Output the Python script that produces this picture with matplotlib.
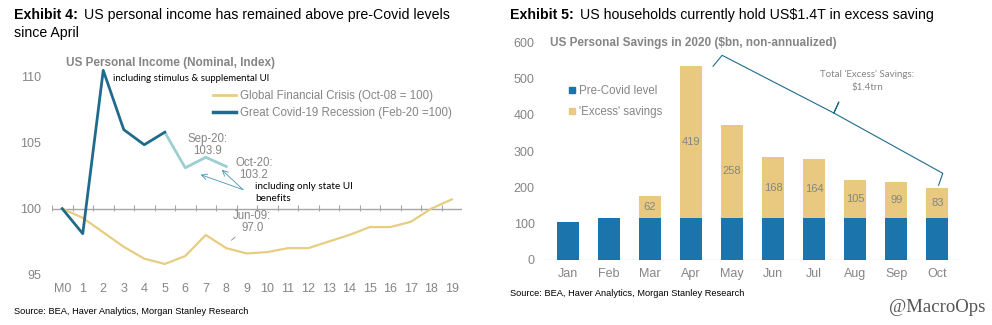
import numpy as np
import matplotlib
matplotlib.use("Agg")
from matplotlib import pyplot as plt
from matplotlib.lines import Line2D

plt.rcParams["font.family"] = ["Liberation Sans", "DejaVu Sans"]

# Personal income index, months since start of recession
months = list(range(20))
month_labels = ["M0"] + [str(m) for m in months[1:]]
gfc_index = [100.0, 99.3, 98.2, 97.1, 96.2, 95.8, 96.4, 98.0, 97.0, 96.6,
             96.7, 97.0, 97.0, 97.5, 98.0, 98.6, 98.6, 99.0, 100.0, 100.7]
covid_index = [100.0, 98.1, 110.5, 106.0, 104.85, 105.8, 103.1, 103.9, 103.2]

# Personal savings in 2020, $bn
save_months = ["Jan", "Feb", "Mar", "Apr", "May", "Jun", "Jul", "Aug", "Sep", "Oct"]
pre_covid = [105, 115, 115, 115, 115, 115, 115, 115, 115, 115]
excess = [0, 0, 62, 419, 258, 168, 164, 105, 99, 83]

GREY = "#858585"
DARK_BLUE = "#1F6B8C"
LIGHT_BLUE = "#9CCFCF"
BEIGE = "#E6CD82"
BAR_BLUE = "#1B75AC"
BAR_BEIGE = "#E8C97F"
ARROW_BLUE = "#4A90B8"

W, H = 992, 325
fig = plt.figure(figsize=(W / 100, H / 100), dpi=100)
fig.patch.set_facecolor("white")


def px(x, y):
    return x / W, 1 - y / H


def header(x, y, bold, rest, size=10.2):
    t = fig.text(*px(x, y), bold, fontsize=size, fontweight="bold", va="center")
    fig.canvas.draw()
    bb = t.get_window_extent()
    fig.text(bb.x1 / W + 6 / W, 1 - y / H, rest, fontsize=size, va="center")
    return t


# ---- Left: personal income index ----
ax1 = fig.add_axes([52 / W, (H - 274.5) / H, 410 / W, (274.5 - 44) / H])
ax1.set_xlim(-0.5, 19.5)
ax1.set_ylim(95, 112.5)
for s in ax1.spines.values():
    s.set_visible(False)
ax1.set_yticks([95, 100, 105, 110])
ax1.set_xticks(months)
ax1.set_xticklabels(month_labels)
ax1.tick_params(axis="both", length=0, colors=GREY, labelsize=9)
ax1.tick_params(axis="y", pad=8)
ax1.tick_params(axis="x", pad=6)

ax1.axhline(100, color="#A6A6A6", lw=1, zorder=1)
ax1.vlines(np.arange(-0.5, 20, 1), 99.8, 100.25, color="#A6A6A6", lw=0.8, zorder=1)

ax1.plot(months, gfc_index, color=BEIGE, lw=1.6, zorder=2)
ax1.plot(months[5:9], covid_index[5:], color=LIGHT_BLUE, lw=2.0, zorder=3)
ax1.plot(months[:6], covid_index[:6], color=DARK_BLUE, lw=2.0, zorder=4)

ax1.text(0.035, 1.0 - (63 - 44) / 230.5, "US Personal Income (Nominal, Index)",
         transform=ax1.transAxes, fontsize=8.5, fontweight="bold", color=GREY, va="center")

handles = [Line2D([], [], color=BEIGE, lw=2), Line2D([], [], color=DARK_BLUE, lw=2.5)]
ax1.legend(handles, ["Global Financial Crisis (Oct-08 = 100)",
                     "Great Covid-19 Recession (Feb-20 =100)"],
           loc="upper left", bbox_to_anchor=px(213, 90), bbox_transform=fig.transFigure,
           frameon=False, fontsize=8.3, labelcolor=GREY, handlelength=2.0,
           handletextpad=0.3, borderpad=0, borderaxespad=0, labelspacing=0.45)

peak = int(np.argmax(covid_index))
ax1.annotate("including stimulus & supplemental UI", xy=(months[peak], covid_index[peak]),
             xytext=(7, -6), textcoords="offset points", fontsize=6.9, family="Lato",
             va="center", ha="left")
ax1.annotate(f"Sep-20:\n{covid_index[7]}", xy=(months[7], covid_index[7]),
             xytext=(1, 0), textcoords="offset points", ha="center", va="bottom",
             fontsize=8.3, color=GREY, linespacing=1.0)
ax1.annotate(f"Oct-20:\n{covid_index[8]}", xy=(months[8], covid_index[8]),
             xytext=(20, -2), textcoords="offset points", ha="center", va="center",
             fontsize=8.3, color=GREY, linespacing=1.0)
ax1.annotate(f"Jun-09:\n{gfc_index[8]:.1f}", xy=(months[8] + 0.25, gfc_index[8] + 0.6),
             xytext=(15, 13), textcoords="offset points", ha="center", va="center",
             fontsize=8.3, color=GREY, linespacing=1.0,
             arrowprops=dict(arrowstyle="-", color=GREY, lw=0.6, shrinkA=6, shrinkB=0))

# thin arrows pointing at the state-UI-only months
tail = (8.82, 101.44)
for head in [(6.75, 102.58), (7.78, 102.95)]:
    ax1.annotate("", xy=head, xytext=tail,
                 arrowprops=dict(arrowstyle="->", color=ARROW_BLUE, lw=0.6,
                                 shrinkA=0, shrinkB=0))
ax1.text(9.4, 101.2, "including only state UI\nbenefits", fontsize=7.2, family="Lato",
         va="center", ha="left", linespacing=1.4)

# ---- Right: personal savings bars ----
ax2 = fig.add_axes([543 / W, (H - 260) / H, 417 / W, (260 - 35) / H])
x = np.arange(len(save_months))
totals = np.array(pre_covid) + np.array(excess)
ax2.bar(x, pre_covid, width=0.54, color=BAR_BLUE, zorder=2)
ax2.bar(x, excess, bottom=pre_covid, width=0.54, color=BAR_BEIGE, zorder=2)
for i, (b, e) in enumerate(zip(pre_covid, excess)):
    if e:
        ax2.text(i, b + e / 2, str(e), ha="center", va="center", fontsize=8, color=GREY, zorder=3)

ax2.set_xlim(-0.6, 9.55)
ax2.set_ylim(0, 620)
ax2.set_yticks(np.arange(0, 700, 100))
ax2.set_xticks(x)
ax2.set_xticklabels(save_months)
for s in ax2.spines.values():
    s.set_visible(False)
ax2.axhline(0, color="#D9D9D9", lw=1, zorder=1)
ax2.tick_params(axis="both", length=0, colors=GREY, labelsize=9)
ax2.tick_params(axis="y", pad=6)
ax2.tick_params(axis="x", pad=6)

ax2.text(0.017, 598, "US Personal Savings in 2020 ($bn, non-annualized)",
         transform=ax2.get_yaxis_transform(), fontsize=8.5, fontweight="bold",
         color=GREY, va="center")

handles = [Line2D([], [], color=BAR_BLUE, marker="s", ls="", markersize=4.5),
           Line2D([], [], color=BAR_BEIGE, marker="s", ls="", markersize=4.5)]
ax2.legend(handles, ["Pre-Covid level", "'Excess' savings"], loc="upper left",
           bbox_to_anchor=px(569, 85), bbox_transform=fig.transFigure, frameon=False,
           fontsize=8.3, labelcolor=GREY, handlelength=0.6, handletextpad=0.3,
           borderpad=0, borderaxespad=0, labelspacing=0.8)

# brace spanning the excess savings from Apr to Oct
apr, octo = 3, 9
brace_x = [apr + 0.54, apr + 0.76, 6.48, 6.60, 6.48, octo + 0.13, octo + 0.03]
brace_y = [totals[apr], totals[apr] + 30, 405, 435, 405, totals[octo] + 41, totals[octo] + 8]
ax2.plot(brace_x, brace_y, color=DARK_BLUE, lw=0.8, zorder=4, clip_on=False)
ax2.text(7.3, 493, "Total 'Excess' Savings:\n$1.4trn", ha="center", va="center",
         fontsize=7, family="Lato", color=GREY, linespacing=1.5)

# ---- headers, sources, watermark ----
header(14, 15, "Exhibit 4:", "US personal income has remained above pre-Covid levels")
fig.text(*px(14, 33), "since April", fontsize=10.2, va="center")
header(510, 15, "Exhibit 5:", "US households currently hold US$1.4T in excess saving")
fig.text(*px(14, 312), "Source: BEA, Haver Analytics, Morgan Stanley Research",
         fontsize=6.7, va="center")
fig.text(*px(510, 294), "Source: BEA, Haver Analytics, Morgan Stanley Research",
         fontsize=6.7, va="center")
fig.text(*px(985, 307), "@MacroOps", fontsize=13.5, family="Liberation Serif",
         color="#555555", ha="right", va="center")

fig.savefig("out.png", dpi=100, facecolor="white")
